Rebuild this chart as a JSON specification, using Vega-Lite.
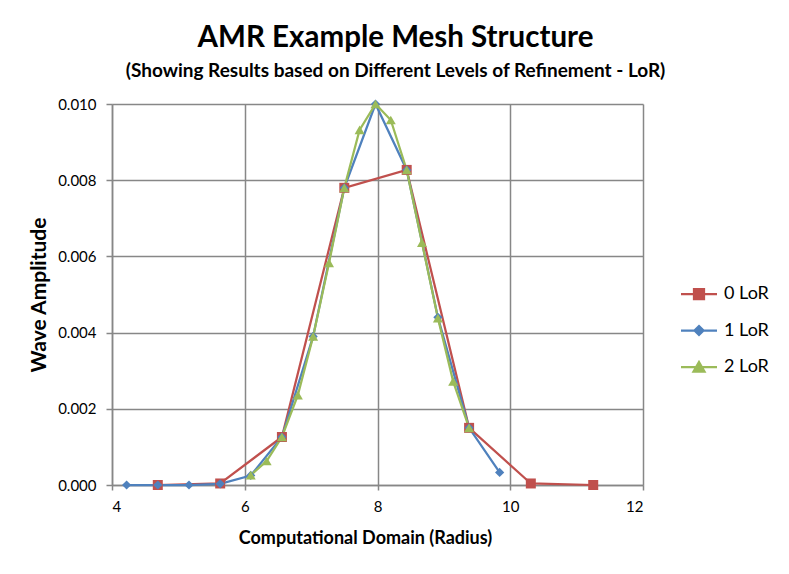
{
  "$schema": "https://vega.github.io/schema/vega-lite/v6.json",
  "width": 531,
  "height": 381,
  "autosize": {"type": "none"},
  "padding": {"left": 112, "top": 104, "right": 146, "bottom": 89},
  "background": "white",
  "title": {
    "text": "AMR Example Mesh Structure",
    "subtitle": "(Showing Results based on Different Levels of Refinement - LoR)",
    "anchor": "middle",
    "dx": 18,
    "offset": 15,
    "font": "Lato",
    "fontSize": 29.5,
    "fontWeight": "bold",
    "color": "black",
    "subtitleFont": "Lato",
    "subtitleFontSize": 19,
    "subtitleFontWeight": "bold",
    "subtitleColor": "black",
    "subtitlePadding": 9
  },
  "data": {
    "values": [
      {"series": "0 LoR", "x": 4.69, "y": 0.0},
      {"series": "0 LoR", "x": 5.63, "y": 0.00004},
      {"series": "0 LoR", "x": 6.56, "y": 0.00126},
      {"series": "0 LoR", "x": 7.5, "y": 0.0078},
      {"series": "0 LoR", "x": 8.44, "y": 0.00827},
      {"series": "0 LoR", "x": 9.38, "y": 0.0015},
      {"series": "0 LoR", "x": 10.31, "y": 0.00004},
      {"series": "0 LoR", "x": 11.25, "y": 0.0},
      {"series": "1 LoR", "x": 4.22, "y": 0.0},
      {"series": "1 LoR", "x": 4.69, "y": 0.0},
      {"series": "1 LoR", "x": 5.16, "y": 0.0},
      {"series": "1 LoR", "x": 5.63, "y": 0.00003},
      {"series": "1 LoR", "x": 6.09, "y": 0.00025},
      {"series": "1 LoR", "x": 6.56, "y": 0.00126},
      {"series": "1 LoR", "x": 7.03, "y": 0.0039},
      {"series": "1 LoR", "x": 7.5, "y": 0.0078},
      {"series": "1 LoR", "x": 7.97, "y": 0.01},
      {"series": "1 LoR", "x": 8.44, "y": 0.00827},
      {"series": "1 LoR", "x": 8.91, "y": 0.0044},
      {"series": "1 LoR", "x": 9.38, "y": 0.0015},
      {"series": "1 LoR", "x": 9.84, "y": 0.00033},
      {"series": "2 LoR", "x": 6.09, "y": 0.00026},
      {"series": "2 LoR", "x": 6.33, "y": 0.00063},
      {"series": "2 LoR", "x": 6.56, "y": 0.00126},
      {"series": "2 LoR", "x": 6.8, "y": 0.00236},
      {"series": "2 LoR", "x": 7.03, "y": 0.0039},
      {"series": "2 LoR", "x": 7.27, "y": 0.00583},
      {"series": "2 LoR", "x": 7.5, "y": 0.0078},
      {"series": "2 LoR", "x": 7.73, "y": 0.00932},
      {"series": "2 LoR", "x": 7.97, "y": 0.01},
      {"series": "2 LoR", "x": 8.2, "y": 0.00958},
      {"series": "2 LoR", "x": 8.44, "y": 0.00827},
      {"series": "2 LoR", "x": 8.67, "y": 0.00636},
      {"series": "2 LoR", "x": 8.91, "y": 0.00438},
      {"series": "2 LoR", "x": 9.14, "y": 0.00272},
      {"series": "2 LoR", "x": 9.38, "y": 0.0015}
    ]
  },
  "encoding": {
    "x": {
      "field": "x",
      "type": "quantitative",
      "scale": {"domain": [4, 12], "nice": false, "zero": false},
      "axis": {
        "title": "Computational Domain (Radius)",
        "values": [4, 6, 8, 10, 12],
        "labelFont": "Lato",
        "labelFontSize": 15,
        "labelColor": "black",
        "labelPadding": 9,
        "titleFont": "Lato",
        "titleFontSize": 18,
        "titleFontWeight": "bold",
        "titleColor": "black",
        "titlePadding": 15,
        "titleX": 253,
        "domainColor": "#878787",
        "domainWidth": 1.5,
        "tickColor": "#878787",
        "tickWidth": 1.5,
        "tickSize": 5,
        "gridColor": "#878787",
        "gridWidth": 1.5,
        "gridOpacity": 1
      }
    },
    "y": {
      "field": "y",
      "type": "quantitative",
      "scale": {"domain": [0, 0.01], "nice": false},
      "axis": {
        "title": "Wave Amplitude",
        "values": [0, 0.002, 0.004, 0.006, 0.008, 0.01],
        "format": ".3f",
        "labelFont": "Lato",
        "labelFontSize": 15,
        "labelColor": "black",
        "labelPadding": 10,
        "titleFont": "Lato",
        "titleFontSize": 21,
        "titleFontWeight": "bold",
        "titleColor": "black",
        "titlePadding": 8,
        "domainColor": "#878787",
        "domainWidth": 1.5,
        "tickColor": "#878787",
        "tickWidth": 1.5,
        "tickSize": 6,
        "gridColor": "#878787",
        "gridWidth": 1.5,
        "gridOpacity": 1
      }
    }
  },
  "layer": [
    {
      "mark": {"type": "line", "strokeWidth": 2.25},
      "encoding": {
        "color": {
          "field": "series",
          "type": "nominal",
          "scale": {"domain": ["0 LoR", "1 LoR", "2 LoR"], "range": ["#C0504D", "#4F81BD", "#9BBB59"]},
          "legend": {
            "title": null,
            "orient": "none",
            "legendX": 578,
            "legendY": 181,
            "labelFont": "Lato",
            "labelFontSize": 18,
            "labelColor": "black",
            "labelOffset": 16,
            "rowPadding": 17.5,
            "symbolSize": 100,
            "symbolStrokeWidth": 2.25,
            "encode": {
              "symbols": {
                "update": {
                  "shape": {"signal": "datum.value === '0 LoR' ? 'M-3.6,0H3.6M-1,-1H1V1H-1Z' : datum.value === '1 LoR' ? 'M-3.6,0H3.6M0,-0.9L0.9,0L0,0.9L-0.9,0Z' : 'M-3.6,0H3.6M0,-1L1.1,0.9H-1.1Z'"},
                  "fill": {"scale": "color", "field": "value"},
                  "stroke": {"scale": "color", "field": "value"},
                  "strokeWidth": {"value": 2.25},
                  "opacity": {"value": 1}
                }
              }
            }
          }
        }
      }
    },
    {
      "transform": [{"filter": "datum.series === '0 LoR'"}],
      "mark": {"type": "point", "filled": true, "opacity": 1, "size": 100, "shape": "square", "color": "#C0504D"}
    },
    {
      "transform": [{"filter": "datum.series === '1 LoR'"}],
      "mark": {"type": "point", "filled": true, "opacity": 1, "size": 85, "shape": "diamond", "color": "#4F81BD"}
    },
    {
      "transform": [{"filter": "datum.series === '2 LoR'"}],
      "mark": {"type": "point", "filled": true, "opacity": 1, "size": 100, "shape": "triangle-up", "color": "#9BBB59"}
    }
  ],
  "config": {
    "view": {"stroke": null}
  }
}
